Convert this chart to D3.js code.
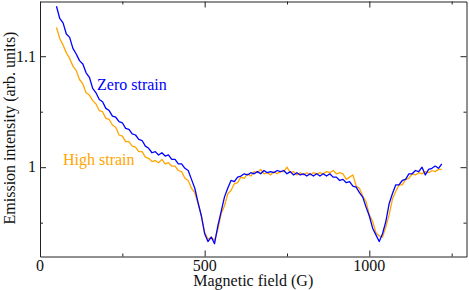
<!DOCTYPE html>
<html>
<head>
<meta charset="utf-8">
<script src="https://cdn.jsdelivr.net/npm/d3@7"></script>
<style>
  body { margin: 0; background: #fff; }
  svg { display: block; }
  svg text { font-family: "Liberation Serif", "DejaVu Serif", "Times New Roman", Times, serif; }
</style>
</head>
<body>
<div id="chart"></div>
<script>
const fields = [
  50, 60, 70, 80, 90, 100, 110, 120, 130, 140, 150, 160, 170, 180, 190, 200,
  210, 220, 230, 240, 250, 260, 270, 280, 290, 300, 310, 320, 330, 340, 350, 360,
  370, 380, 390, 400, 410, 420, 430, 440, 450, 460, 470, 480, 490, 500, 510, 520,
  530, 540, 550, 560, 570, 580, 590, 600, 610, 620, 630, 640, 650, 660, 670, 680,
  690, 700, 710, 720, 730, 740, 750, 760, 770, 780, 790, 800, 810, 820, 830, 840,
  850, 860, 870, 880, 890, 900, 910, 920, 930, 940, 950, 960, 970, 980, 990, 1000,
  1010, 1020, 1030, 1040, 1050, 1060, 1070, 1080, 1090, 1100, 1110, 1120, 1130, 1140, 1150, 1160,
  1170, 1180, 1190, 1200, 1210, 1220
];

const zeroStrain = [
  1.145, 1.134, 1.130, 1.120, 1.117, 1.107, 1.102, 1.096, 1.093, 1.085, 1.081, 1.071, 1.067, 1.061, 1.059, 1.053,
  1.051, 1.046, 1.045, 1.041, 1.040, 1.035, 1.034, 1.030, 1.029, 1.025, 1.024, 1.019, 1.017, 1.013, 1.014, 1.011,
  1.013, 1.010, 1.011, 1.007, 1.007, 1.003, 1.003, 0.999, 0.997, 0.989, 0.981, 0.968, 0.956, 0.940, 0.933, 0.937,
  0.931, 0.947, 0.960, 0.973, 0.981, 0.988, 0.987, 0.991, 0.992, 0.994, 0.993, 0.995, 0.994, 0.996, 0.994, 0.997,
  0.995, 0.996, 0.995, 0.997, 0.996, 0.997, 0.994, 0.996, 0.993, 0.995, 0.993, 0.994, 0.992, 0.994, 0.992, 0.994,
  0.992, 0.994, 0.992, 0.994, 0.991, 0.991, 0.988, 0.989, 0.986, 0.987, 0.983, 0.982, 0.977, 0.973, 0.964, 0.956,
  0.945, 0.939, 0.933, 0.940, 0.951, 0.967, 0.976, 0.984, 0.984, 0.988, 0.989, 0.994, 0.994, 0.997, 0.996, 1.000,
  0.993, 0.998, 0.999, 1.001, 0.999, 1.003
];

const highStrain = [
  1.126, 1.116, 1.110, 1.103, 1.098, 1.091, 1.087, 1.079, 1.075, 1.067, 1.065, 1.060, 1.057, 1.051, 1.050, 1.044,
  1.043, 1.038, 1.036, 1.029, 1.028, 1.023, 1.023, 1.019, 1.018, 1.014, 1.014, 1.009, 1.008, 1.005, 1.006, 1.004,
  1.007, 1.003, 1.004, 1.001, 1.001, 0.997, 0.996, 0.990, 0.988, 0.981, 0.977, 0.967, 0.956, 0.941, 0.935, 0.937,
  0.934, 0.944, 0.958, 0.965, 0.976, 0.979, 0.985, 0.986, 0.991, 0.990, 0.994, 0.992, 0.996, 0.995, 0.998, 0.994,
  0.995, 0.993, 0.996, 0.994, 0.996, 0.996, 1.000, 0.995, 0.996, 0.993, 0.995, 0.993, 0.995, 0.993, 0.995, 0.994,
  0.995, 0.994, 0.996, 0.995, 0.997, 0.994, 0.995, 0.994, 0.989, 0.991, 0.993, 0.983, 0.981, 0.974, 0.969, 0.957,
  0.951, 0.941, 0.938, 0.937, 0.946, 0.957, 0.971, 0.978, 0.984, 0.984, 0.989, 0.990, 0.994, 0.993, 0.995, 0.994,
  0.996, 0.995, 0.997, 0.996, 0.998, 0.998
];

const xMajorTicks = [0, 500, 1000];
const xMinorTicks = [250, 750, 1250];
const yMajorTicks = [1, 1.1];
const yMinorTicks = [0.95, 1.05];

drawChart();

function drawChart() {
  const width = 469;
  const height = 290;
  const margin = { top: 1.5, right: 2.5, bottom: 33.5, left: 40 };
  const innerW = width - margin.left - margin.right;
  const innerH = height - margin.top - margin.bottom;
  const serif = '"Liberation Serif", "DejaVu Serif", "Times New Roman", serif';

  const x = d3.scaleLinear().domain([0, 1295]).range([0, innerW]);
  const y = d3.scaleLinear().domain([0.9195, 1.1493]).range([innerH, 0]);

  const svg = d3.select('#chart')
    .append('svg')
    .attr('width', width)
    .attr('height', height)
    ;

  const g = svg.append('g')
    .attr('transform', `translate(${margin.left},${margin.top})`)
    ;

  // orange under blue, as in the original
  drawSeries(g, highStrain, '#ffa500', x, y);
  drawSeries(g, zeroStrain, '#0000ff', x, y);

  // inward ticks on all four sides
  const sides = [
    { make: () => d3.axisBottom(x), at: `translate(0,${innerH})`, isX: true },
    { make: () => d3.axisTop(x), at: 'translate(0,0)', isX: true },
    { make: () => d3.axisLeft(y), at: 'translate(0,0)', isX: false },
    { make: () => d3.axisRight(y), at: `translate(${innerW},0)`, isX: false }
  ];

  sides.forEach(function(s) {
    const major = s.make()
      .tickValues(s.isX ? xMajorTicks : yMajorTicks)
      .tickSizeInner(-6)
      .tickSizeOuter(0)
      .tickFormat('')
      ;
    const ga = g.append('g').attr('transform', s.at).call(major);
    ga.select('.domain').attr('stroke', '#222');
    ga.selectAll('.tick line').attr('stroke', '#222');

    const minor = s.make()
      .tickValues(s.isX ? xMinorTicks : yMinorTicks)
      .tickSizeInner(-3)
      .tickSizeOuter(0)
      .tickFormat('')
      ;
    const gm = g.append('g').attr('transform', s.at).call(minor);
    gm.select('.domain').remove();
    gm.selectAll('.tick line').attr('stroke', '#222');
  });

  // tick labels
  g.selectAll('.x-label')
    .data(xMajorTicks)
    .enter()
    .append('text')
    .attr('x', d => x(d))
    .attr('y', innerH + 14)
    .attr('text-anchor', 'middle')
    .attr('font-family', serif)
    .attr('font-size', 16)
    .attr('fill', '#111')
    .text(d => d)
    ;

  g.selectAll('.y-label')
    .data(yMajorTicks)
    .enter()
    .append('text')
    .attr('x', -4)
    .attr('y', d => y(d) + 5.3)
    .attr('text-anchor', 'end')
    .attr('font-family', serif)
    .attr('font-size', 16)
    .attr('fill', '#111')
    .text(d => d3.format('~g')(d))
    ;

  svg.append('text')
    .attr('x', margin.left + innerW / 2)
    .attr('y', 286)
    .attr('text-anchor', 'middle')
    .attr('font-family', serif)
    .attr('font-size', 16)
    .attr('fill', '#111')
    .text('Magnetic field (G)')
    ;

  svg.append('text')
    .attr('transform', 'translate(14.5,128) rotate(-90)')
    .attr('text-anchor', 'middle')
    .attr('font-family', serif)
    .attr('font-size', 16)
    .attr('fill', '#111')
    .text('Emission intensity (arb. units)')
    ;

  svg.append('text')
    .attr('x', 97)
    .attr('y', 90)
    .attr('font-family', serif)
    .attr('font-size', 16)
    .attr('fill', '#0000ff')
    .text('Zero strain')
    ;

  svg.append('text')
    .attr('x', 63)
    .attr('y', 164.5)
    .attr('font-family', serif)
    .attr('font-size', 16)
    .attr('fill', '#ffa500')
    .text('High strain')
    ;
}

function drawSeries(g, values, color, x, y) {
  const line = d3.line()
    .x((d, i) => x(fields[i]))
    .y(d => y(d))
    ;

  g.append('path')
    .datum(values)
    .attr('fill', 'none')
    .attr('stroke', color)
    .attr('stroke-width', 1.3)
    .attr('stroke-linejoin', 'round')
    .attr('d', line)
    ;
}
</script>
</body>
</html>
